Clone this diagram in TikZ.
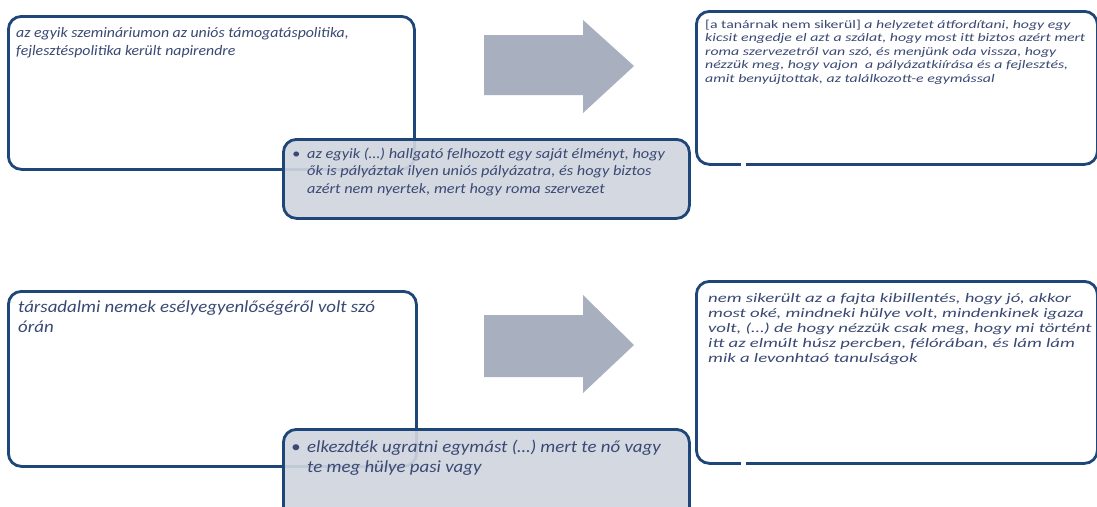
\documentclass[tikz,border=0pt]{standalone}
\usepackage{fontspec}
\setmainfont{Carlito}
\definecolor{navy}{HTML}{1E4678}
\definecolor{ink}{HTML}{3A4973}
\definecolor{subfill}{HTML}{D0D5DF}
\definecolor{arrowgray}{HTML}{A8AFBE}
% text block: #1 horizontal stretch, #2 vertical squeeze, #3 font size, #4 baseline skip, #5 lines
\newcommand{\textblock}[5]{\scalebox{#1}[#2]{\parbox[t]{420pt}{\fontsize{#3}{#4}\selectfont\itshape\raggedright #5}}}
\newcommand{\bulletmark}{\leavevmode\llap{•\hspace{6pt}}}
\begin{document}
\begin{tikzpicture}[x=1pt,y=-1pt,
  frame/.style={draw=navy, line width=2.8pt, rounded corners=13pt, fill=white,
    anchor=north west, inner sep=0pt},
  subframe/.style={frame, fill=subfill, fill opacity=0.92},
  txt/.style={anchor=base west, inner sep=0pt, text=ink},
  pointer/.style={fill=arrowgray}]
\useasboundingbox[fill=white] (0,0) rectangle (1097,506);

% ---- upper row ----
\node[frame, minimum width=406pt, minimum height=153pt] (top-left) at (7,15) {};
\node[subframe, minimum width=406pt, minimum height=79pt] (top-sub) at (282,138) {};
\fill[pointer] (484,35) -- (583,35) -- (583,20) -- (634,66) -- (583,113) -- (583,95) -- (484,95) -- cycle;
\node[frame, minimum width=401pt, minimum height=153pt] (top-right) at (695,10) {};
\fill[white] (741,159) rectangle (746,167);

\node[txt] (top-left-text) at (16,37) {\textblock{1.09}{1}{14.5}{18}{%
  az egyik szemináriumon az uniós támogatáspolitika,\\
  fejlesztéspolitika került napirendre}};
\node[txt] (top-sub-text) at (307,158) {\textblock{1.14}{1}{14.3}{17.5}{%
  \bulletmark az egyik (…) hallgató felhozott egy saját élményt, hogy\\
  ők is pályáztak ilyen uniós pályázatra, és hogy biztos\\
  azért nem nyertek, mert hogy roma szervezet}};
\node[txt] (top-right-text) at (705,28) {\textblock{1.09}{0.8}{14.5}{16.9}{%
  {\upshape [a tanárnak nem sikerül]} a helyzetet átfordítani, hogy egy\\
  kicsit engedje el azt a szálat, hogy most itt biztos azért mert\\
  roma szervezetről van szó, és menjünk oda vissza, hogy\\
  nézzük meg, hogy vajon \ a pályázatkiírása és a fejlesztés,\\
  amit benyújtottak, az találkozott-e egymással}};

% ---- lower row ----
\node[frame, minimum width=408pt, minimum height=175pt] (bottom-left) at (7,290) {};
\node[subframe, minimum width=406pt, minimum height=100pt] (bottom-sub) at (282,428) {};
\fill[pointer] (484,315) -- (583,315) -- (583,295) -- (634,345) -- (583,393) -- (583,377) -- (484,377) -- cycle;
\node[frame, minimum width=401pt, minimum height=182pt] (bottom-right) at (695,280) {};
\fill[white] (741,458) rectangle (746,466);

\node[txt] (bottom-left-text) at (18,312) {\textblock{1.11}{1}{17}{20}{%
  társadalmi nemek esélyegyenlőségéről volt szó\\
  órán}};
\node[txt] (bottom-sub-text) at (307,452) {\textblock{1.11}{1}{17}{20}{%
  \bulletmark elkezdték ugratni egymást (…) mert te nő vagy\\
  te meg hülye pasi vagy}};
\node[txt] (bottom-right-text) at (708,302) {\textblock{1.15}{0.8}{16.3}{18.75}{%
  nem sikerült az a fajta kibillentés, hogy jó, akkor\\
  most oké, mindneki hülye volt, mindenkinek igaza\\
  volt, (…) de hogy nézzük csak meg, hogy mi történt\\
  itt az elmúlt húsz percben, félórában, és lám lám\\
  mik a levonhtaó tanulságok}};
\end{tikzpicture}
\end{document}
